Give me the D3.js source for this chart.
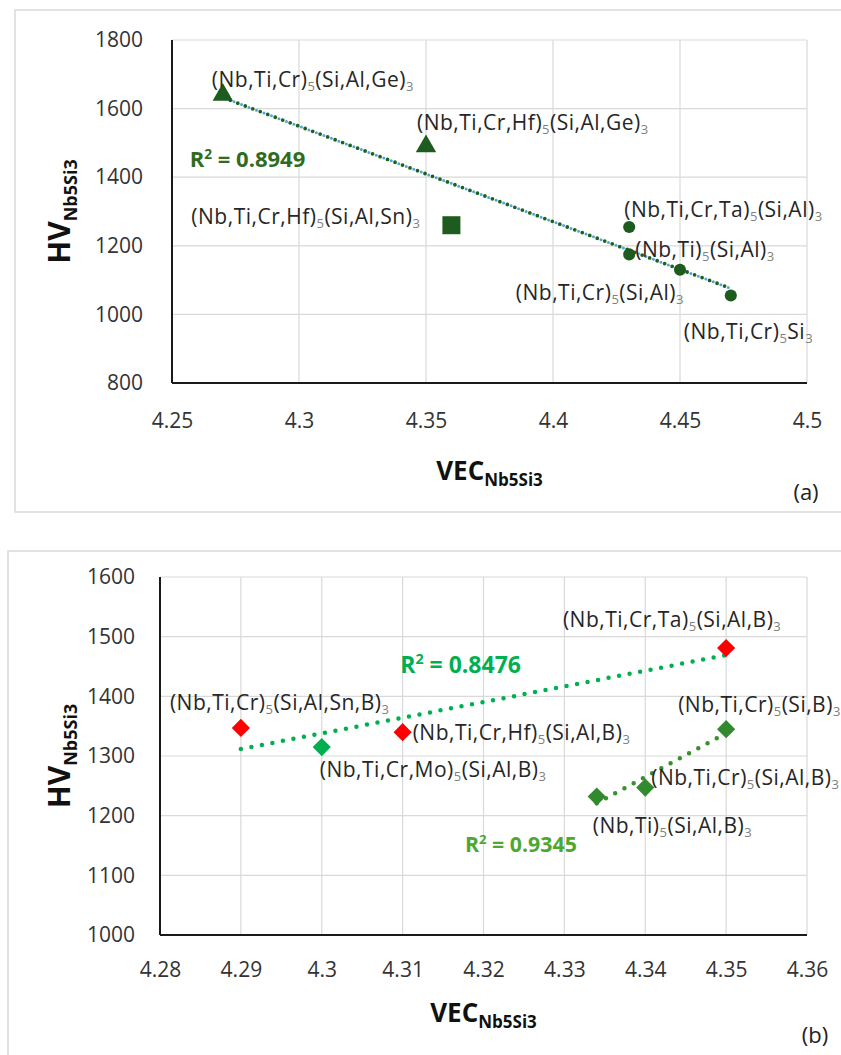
<!DOCTYPE html>
<html><head><meta charset="utf-8">
<script src="https://cdn.jsdelivr.net/npm/d3@7"></script>
<style>
body{margin:0;background:#fff}
svg{display:block}
text{font-family:"Open Sans",sans-serif}
</style>
</head><body>
<svg id="chart" width="841" height="1055"></svg>
<script>
// ---------- Panel (a) data ----------
const vecA   = [4.27, 4.35, 4.36, 4.43, 4.43, 4.45, 4.47];
const hvA    = [1640, 1490, 1260, 1255, 1175, 1130, 1055];
const shapeA = ["triangle", "triangle", "square", "circle", "circle", "circle", "circle"];
const labelA = ["(Nb,Ti,Cr)_5(Si,Al,Ge)_3", "(Nb,Ti,Cr,Hf)_5(Si,Al,Ge)_3", "(Nb,Ti,Cr,Hf)_5(Si,Al,Sn)_3",
                "(Nb,Ti,Cr,Ta)_5(Si,Al)_3", "(Nb,Ti)_5(Si,Al)_3", "(Nb,Ti,Cr)_5(Si,Al)_3", "(Nb,Ti,Cr)_5Si_3"];
const xTicksA = [4.25, 4.3, 4.35, 4.4, 4.45, 4.5];
const yTicksA = [800, 1000, 1200, 1400, 1600, 1800];
const r2A = "0.8949";

// ---------- Panel (b) data ----------
const vecB1   = [4.29, 4.30, 4.31, 4.35];
const hvB1    = [1347, 1315, 1340, 1481];
const kindB1  = ["Sn/Hf/Ta", "Mo", "Sn/Hf/Ta", "Sn/Hf/Ta"];
const labelB1 = ["(Nb,Ti,Cr)_5(Si,Al,Sn,B)_3", "(Nb,Ti,Cr,Mo)_5(Si,Al,B)_3", "(Nb,Ti,Cr,Hf)_5(Si,Al,B)_3", "(Nb,Ti,Cr,Ta)_5(Si,Al,B)_3"];
const vecB2   = [4.334, 4.34, 4.35];
const hvB2    = [1232, 1247, 1345];
const labelB2 = ["(Nb,Ti)_5(Si,Al,B)_3", "(Nb,Ti,Cr)_5(Si,Al,B)_3", "(Nb,Ti,Cr)_5(Si,B)_3"];
const xTicksB = [4.28, 4.29, 4.30, 4.31, 4.32, 4.33, 4.34, 4.35, 4.36];
const yTicksB = [1000, 1100, 1200, 1300, 1400, 1500, 1600];
const r2B1 = "0.8476";
const r2B2 = "0.9345";

// ---------- layout (pixel offsets of labels from their points) ----------
const offA  = [[-11,-8,"start"],[-9,-16,"start"],[-31,-1,"end"],[-5,-10,"start"],[6,3,"start"],[4,30,"end"],[-47,43,"start"]];
const offB1 = [[-71,-18,"start"],[-2,30,"start"],[10,8,"start"],[-54,-21,"middle"]];
const offB2 = [[-4,36,"start"],[6,-3,"start"],[-48,-17,"start"]];

const svg = d3.select("#chart");
const GRID = "#d9d9d9", TXT = "#262626", SUB = "#7f7f7f";

function fit(xs, ys) {
  const mx = d3.mean(xs), my = d3.mean(ys);
  let sxy = 0, sxx = 0;
  xs.forEach((x, i) => { sxy += (x - mx) * (ys[i] - my); sxx += (x - mx) * (x - mx); });
  const b = sxy / sxx;
  return x => my + b * (x - mx);
}

function richText(sel, str, subColor) {
  const parts = str.split(/_(\d)/);
  parts.forEach((p, i) => {
    if (!p) return;
    if (i % 2 === 1) {
      sel.append("tspan").attr("font-size", "0.62em").attr("dy", 4).attr("fill", subColor).text(p);
    } else {
      const t = sel.append("tspan").text(p);
      if (i > 0) t.attr("dy", -4);
    }
  });
}

function panel(o) {
  const g = svg.append("g");
  g.append("rect").attr("x", o.box[0]).attr("y", o.box[1]).attr("width", o.box[2]).attr("height", o.box[3])
    .attr("fill", "#fff").attr("stroke", GRID).attr("stroke-width", 1.5);
  const x = d3.scaleLinear().domain(o.xDom).range([o.L, o.R]);
  const y = d3.scaleLinear().domain(o.yDom).range([o.B, o.T]);
  g.append("g").selectAll("line").data(o.xTicks.slice(1)).join("line")
    .attr("x1", d => x(d)).attr("x2", d => x(d)).attr("y1", o.T).attr("y2", o.B)
    .attr("stroke", GRID).attr("stroke-width", 1.2);
  g.append("g").selectAll("line").data(o.yTicks.slice(1)).join("line")
    .attr("x1", o.L).attr("x2", o.R).attr("y1", d => y(d)).attr("y2", d => y(d))
    .attr("stroke", GRID).attr("stroke-width", 1.2);
  const ax = g.append("g").attr("transform", `translate(0,${o.B})`)
    .call(d3.axisBottom(x).tickValues(o.xTicks).tickSize(0).tickPadding(o.xPad).tickFormat(d => String(+d.toFixed(3))));
  const ay = g.append("g").attr("transform", `translate(${o.L},0)`)
    .call(d3.axisLeft(y).tickValues(o.yTicks).tickSize(0).tickPadding(o.yPad).tickFormat(d => String(d)));
  [ax, ay].forEach(a => {
    a.select(".domain").remove();
    a.selectAll("text").attr("font-size", 21).attr("fill", "#333").attr("font-family", "Open Sans");
  });
  g.append("line").attr("x1", o.L).attr("x2", o.L).attr("y1", o.T).attr("y2", o.B).attr("stroke", "#1a1a1a").attr("stroke-width", 2);
  g.append("line").attr("x1", o.L).attr("x2", o.R).attr("y1", o.B).attr("y2", o.B).attr("stroke", "#1a1a1a").attr("stroke-width", 2);
  const xt = g.append("text").attr("x", (o.L + o.R) / 2).attr("y", o.xTitleY).attr("text-anchor", "middle")
    .attr("font-weight", 700).attr("font-size", 26).attr("fill", "#111");
  xt.append("tspan").text("VEC");
  xt.append("tspan").attr("font-size", 17).attr("dy", 6).text("Nb5Si3");
  const yt = g.append("text").attr("transform", `translate(${o.yTitleX},${(o.T + o.B) / 2}) rotate(-90)`)
    .attr("text-anchor", "middle").attr("font-weight", 700).attr("font-size", 30).attr("fill", "#111");
  yt.append("tspan").text("HV");
  yt.append("tspan").attr("font-size", 18).attr("dy", 7).text("Nb5Si3");
  g.append("text").attr("x", o.tag[0]).attr("y", o.tag[1]).attr("text-anchor", "middle")
    .attr("font-size", 22).attr("fill", "#222").text(o.tagText);
  return {g, x, y};
}

function labels(g, x, y, xs, ys, labs, offs) {
  xs.forEach((v, i) => {
    const t = g.append("text").attr("x", x(v) + offs[i][0]).attr("y", y(ys[i]) + offs[i][1])
      .attr("text-anchor", offs[i][2]).attr("font-size", 21).attr("letter-spacing", 0.5).attr("fill", TXT);
    richText(t, labs[i], SUB);
  });
}

function r2Text(g, x, y, xv, yv, val, color, size, len) {
  const t = g.append("text").attr("x", x(xv)).attr("y", y(yv)).attr("font-weight", 700)
    .attr("font-size", size).attr("fill", color);
  t.append("tspan").text("R");
  t.append("tspan").attr("font-size", size * 0.62).attr("dy", -size * 0.38).text("2");
  t.append("tspan").attr("dy", size * 0.38).text(" = " + val);
  if (len) t.attr("textLength", len).attr("lengthAdjust", "spacingAndGlyphs");
}

// ---------- Panel (a) ----------
{
  const {g, x, y} = panel({box: [15, 10, 840, 502], L: 172, R: 807, T: 40, B: 383,
    xDom: [4.25, 4.5], yDom: [800, 1800], xTicks: xTicksA, yTicks: yTicksA,
    xPad: 30, yPad: 29, xTitleY: 480, yTitleX: 70, tag: [806, 500], tagText: "(a)"});
  const f = fit(vecA, hvA);
  const x0 = d3.min(vecA), x1 = d3.max(vecA);
  g.append("line").attr("x1", x(x0)).attr("y1", y(f(x0))).attr("x2", x(x1)).attr("y2", y(f(x1)))
    .attr("stroke", "#4fa6dc").attr("stroke-width", 3).attr("stroke-linecap", "round")
    .attr("stroke-dasharray", "0 8").attr("stroke-dashoffset", 4);
  g.append("line").attr("x1", x(x0)).attr("y1", y(f(x0))).attr("x2", x(x1)).attr("y2", y(f(x1)))
    .attr("stroke", "#1f5f1f").attr("stroke-width", 3.8).attr("stroke-linecap", "round").attr("stroke-dasharray", "0 8");
  const sym = {triangle: d3.symbol(d3.symbolTriangle, 180), square: d3.symbol(d3.symbolSquare, 324), circle: d3.symbol(d3.symbolCircle, 115)};
  g.append("g").selectAll("path").data(vecA).join("path")
    .attr("d", (d, i) => sym[shapeA[i]]())
    .attr("transform", (d, i) => `translate(${x(d)},${y(hvA[i])})`)
    .attr("fill", "#1e5b1e");
  labels(g, x, y, vecA, hvA, labelA, offA);
  r2Text(g, x, y, 4.257, 1430, r2A, "#306b1f", 22);
}

// ---------- Panel (b) ----------
{
  const {g, x, y} = panel({box: [8, 551, 845, 520], L: 160, R: 807, T: 577, B: 935,
    xDom: [4.28, 4.36], yDom: [1000, 1600], xTicks: xTicksB, yTicks: yTicksB,
    xPad: 27, yPad: 25, xTitleY: 1022, yTitleX: 70, tag: [815, 1043], tagText: "(b)"});
  const f1 = fit(vecB1, hvB1);
  const a0 = d3.min(vecB1), a1 = d3.max(vecB1);
  g.append("line").attr("x1", x(a0)).attr("y1", y(f1(a0))).attr("x2", x(a1)).attr("y2", y(f1(a1)))
    .attr("stroke", "#00b050").attr("stroke-width", 4.5).attr("stroke-linecap", "round").attr("stroke-dasharray", "0 10.7");
  const f2 = fit(vecB2, hvB2);
  const b0 = d3.min(vecB2), b1 = d3.max(vecB2);
  g.append("line").attr("x1", x(b0)).attr("y1", y(f2(b0))).attr("x2", x(b1)).attr("y2", y(f2(b1)))
    .attr("stroke", "#3a8f2e").attr("stroke-width", 4.5).attr("stroke-linecap", "round").attr("stroke-dasharray", "0 10.5");
  const color1 = d3.scaleOrdinal().domain(["Sn/Hf/Ta", "Mo"]).range(["#ff0000", "#00b050"]);
  const dia = d3.symbol(d3.symbolSquare, 165);
  g.append("g").selectAll("path").data(vecB1).join("path")
    .attr("d", dia).attr("transform", (d, i) => `translate(${x(d)},${y(hvB1[i])}) rotate(45)`)
    .attr("fill", (d, i) => color1(kindB1[i]));
  g.append("g").selectAll("path").data(vecB2).join("path")
    .attr("d", dia).attr("transform", (d, i) => `translate(${x(d)},${y(hvB2[i])}) rotate(45)`)
    .attr("fill", "#318b2e");
  labels(g, x, y, vecB1, hvB1, labelB1, offB1);
  labels(g, x, y, vecB2, hvB2, labelB2, offB2);
  r2Text(g, x, y, 4.3097, 1439, r2B1, "#00b050", 23);
  r2Text(g, x, y, 4.3177, 1139, r2B2, "#4ea72e", 21, 112);
}
</script>
</body></html>
